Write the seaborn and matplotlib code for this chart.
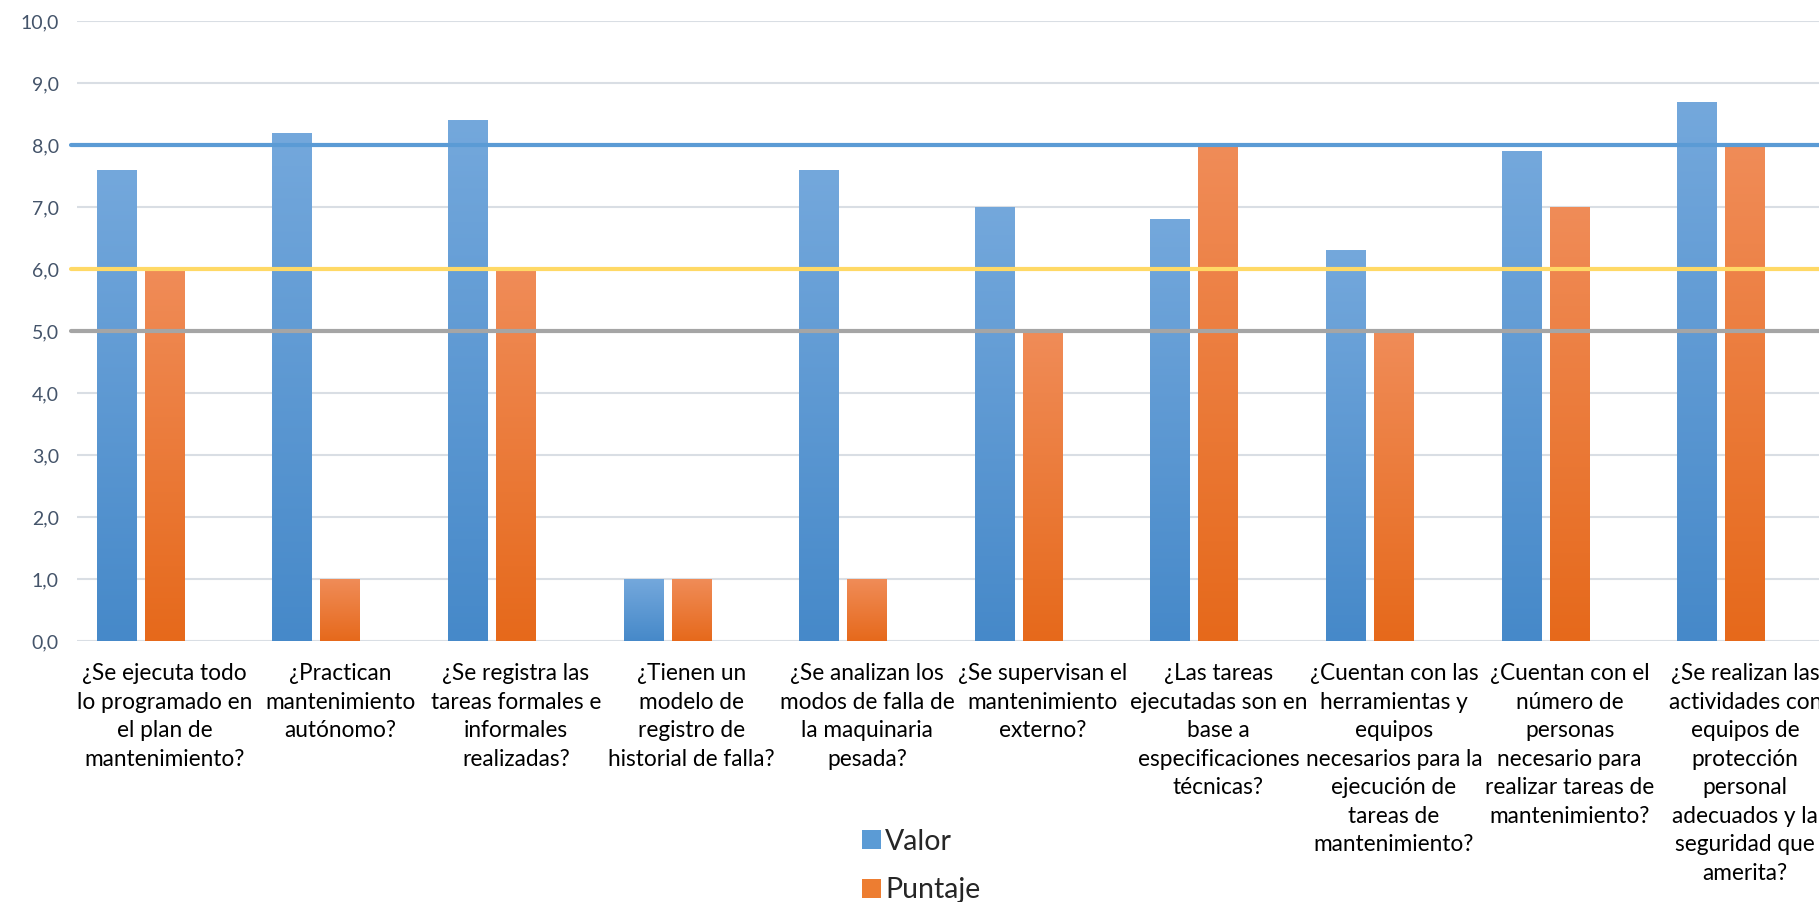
import numpy as np
import pandas as pd
import matplotlib
matplotlib.use("Agg")
import matplotlib.pyplot as plt
import seaborn as sns
from matplotlib.colors import LinearSegmentedColormap
from matplotlib.patches import Patch

categorias = [
    "¿Se ejecuta todo\nlo programado en\nel plan de\nmantenimiento?",
    "¿Practican\nmantenimiento\nautónomo?",
    "¿Se registra las\ntareas formales e\ninformales\nrealizadas?",
    "¿Tienen un\nmodelo de\nregistro de\nhistorial de falla?",
    "¿Se analizan los\nmodos de falla de\nla maquinaria\npesada?",
    "¿Se supervisan el\nmantenimiento\nexterno?",
    "¿Las tareas\nejecutadas son en\nbase a\nespecificaciones\ntécnicas?",
    "¿Cuentan con las\nherramientas y\nequipos\nnecesarios para la\nejecución de\ntareas de\nmantenimiento?",
    "¿Cuentan con el\nnúmero de\npersonas\nnecesario para\nrealizar tareas de\nmantenimiento?",
    "¿Se realizan las\nactividades con\nequipos de\nprotección\npersonal\nadecuados y la\nseguridad que\namerita?",
]
valor = [7.6, 8.2, 8.4, 1.0, 7.6, 7.0, 6.8, 6.3, 7.9, 8.7]
puntaje = [6, 1, 6, 1, 1, 5, 8, 5, 7, 8]
series = ["Valor", "Puntaje"]
lineas_ref = [8.0, 6.0, 5.0]
colores_ref = ["#5B9BD5", "#FFD966", "#A5A5A5"]
yticks = [0, 1, 2, 3, 4, 5, 6, 7, 8, 9, 10]

df = pd.DataFrame({
    "cat": categorias * 2,
    "val": valor + puntaje,
    "serie": ["Valor"] * len(valor) + ["Puntaje"] * len(puntaje),
})

sns.set_theme(style="white")
plt.rcParams["font.family"] = ["Lato", "DejaVu Sans"]

W, H = 1819, 902
fig = plt.figure(figsize=(W / 100, H / 100), dpi=100)
ax_left, ax_right = 77, 1819
ax_top, ax_bot = 21, 641
ax = fig.add_axes([ax_left / W, (H - ax_bot) / H, (ax_right - ax_left) / W, (ax_bot - ax_top) / H])

palette = {"Valor": "#5B9BD5", "Puntaje": "#ED7D31", "_": "#ffffff"}
sns.barplot(data=df, x="cat", y="val", hue="serie", hue_order=["Valor", "Puntaje", "_"],
            order=categorias, palette=palette, width=0.82, gap=0.1667, legend=False,
            errorbar=None, ax=ax, zorder=2)

# gradient fill for bars
grads = {
    "Valor": LinearSegmentedColormap.from_list("b", ["#4689C9", "#74A8DC"]),
    "Puntaje": LinearSegmentedColormap.from_list("o", ["#E6691B", "#F08C58"]),
}
grad = np.linspace(0, 1, 256).reshape(-1, 1)
for p in list(ax.patches):
    fc = p.get_facecolor()
    if p.get_height() <= 0:
        continue
    key = "Valor" if fc[2] > fc[0] else "Puntaje"
    x0, y0 = p.get_x(), p.get_y()
    w, h = p.get_width(), p.get_height()
    im = ax.imshow(grad, extent=[x0, x0 + w, y0, y0 + h], origin="lower",
                   cmap=grads[key], aspect="auto", zorder=2)
    im.set_clip_path(p)
    p.set_facecolor("none")
    p.set_edgecolor("none")

cat_w = 175.6
ax.set_xlim(-0.5, -0.5 + (ax_right - ax_left) / cat_w)
ax.set_ylim(0, 10)
ax.set_yticks(yticks)
ax.set_yticklabels([f"{v:.1f}".replace(".", ",") for v in yticks], fontsize=14, color="#44546A")
ax.yaxis.grid(True, color="#D9DEE4", lw=1.5, zorder=0)
ax.xaxis.grid(False)
for s in ax.spines.values():
    s.set_visible(False)
ax.tick_params(axis="both", length=0)
ax.tick_params(axis="y", pad=13)
ax.tick_params(axis="x", pad=16)
for t in ax.get_xticklabels():
    t.set_fontsize(16.3)
    t.set_color("#000000")
    t.set_linespacing(1.44)
    t.set_va("top")
ax.set_xlabel("")
ax.set_ylabel("")

for yv, c in zip(lineas_ref, colores_ref):
    ax.axhline(yv, color=c, lw=3, xmin=-0.0035, xmax=1, clip_on=False, zorder=5)

handles = [Patch(facecolor="#5B9BD5", edgecolor="none"),
           Patch(facecolor="#ED7D31", edgecolor="none")]
fig.legend(handles, series, loc="center left", bbox_to_anchor=(851 / W, 1 - 866 / H),
           frameon=False, fontsize=20.5, handlelength=0.65, handleheight=0.65,
           handletextpad=0.15, labelspacing=0.78, borderaxespad=0)

fig.savefig("out.png", dpi=100)
